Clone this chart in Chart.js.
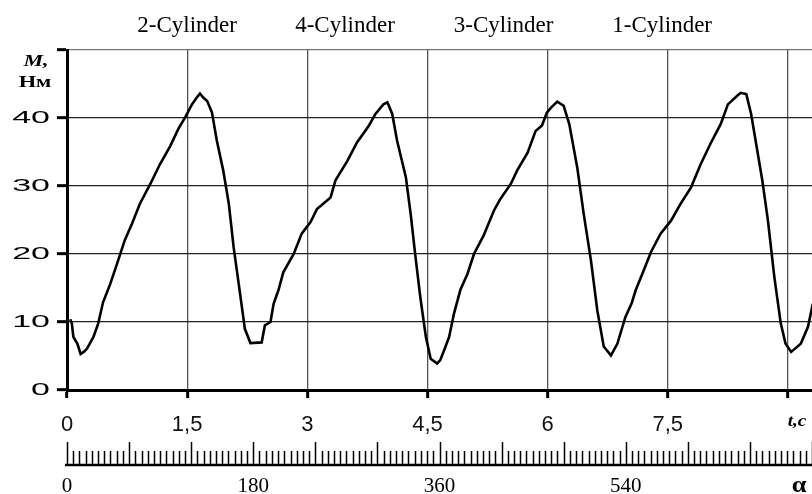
<!DOCTYPE html>
<html>
<head>
<meta charset="utf-8">
<script src="https://cdn.jsdelivr.net/npm/chart.js@4"></script>
<style>
  body { margin: 0; background: #fff; }
  #wrap { width: 812px; height: 494px; position: relative; }
</style>
</head>
<body>
<div id="wrap"><canvas id="torque-chart"></canvas></div>
<script>
// time t, s
const tValues = [
  0.04, 0.06, 0.08, 0.13, 0.17, 0.21, 0.25, 0.33, 0.39, 0.45, 0.54, 0.64, 0.72, 0.81, 0.91,
  1.04, 1.16, 1.29, 1.39, 1.48, 1.56, 1.62, 1.66, 1.70, 1.75, 1.81, 1.87, 1.95, 2.02, 2.08,
  2.16, 2.22, 2.29, 2.43, 2.47, 2.54, 2.58, 2.64, 2.70, 2.83, 2.93, 3.04, 3.12, 3.29, 3.35,
  3.50, 3.62, 3.77, 3.85, 3.95, 4.00, 4.06, 4.12, 4.23, 4.29, 4.35, 4.41, 4.48, 4.54, 4.62,
  4.66, 4.72, 4.77, 4.83, 4.91, 5.00, 5.08, 5.20, 5.33, 5.41, 5.54, 5.62, 5.75, 5.85, 5.93,
  5.99, 6.04, 6.12, 6.20, 6.27, 6.37, 6.45, 6.54, 6.62, 6.70, 6.79, 6.87, 6.97, 7.05, 7.10,
  7.20, 7.29, 7.41, 7.54, 7.66, 7.79, 7.91, 8.04, 8.16, 8.25, 8.37, 8.41, 8.48, 8.54, 8.60,
  8.68, 8.75, 8.83, 8.91, 8.97, 9.04, 9.16, 9.25, 9.31
];
// torque M, Nm
const mValues = [
  10.4, 9.8, 7.8, 6.8, 5.3, 5.6, 6.1, 7.8, 9.8, 12.9, 15.6, 19.1, 22.0, 24.4, 27.4,
  30.3, 33.2, 35.9, 38.4, 40.2, 42.0, 43.0, 43.6, 43.0, 42.5, 40.8, 36.7, 32.3, 27.4, 21.0,
  14.2, 9.0, 6.9, 7.0, 9.5, 10.0, 12.7, 14.7, 17.3, 20.0, 23.0, 24.7, 26.6, 28.3, 30.8,
  33.7, 36.4, 38.9, 40.6, 42.0, 42.3, 40.6, 36.7, 31.3, 25.9, 19.6, 13.7, 7.8, 4.6, 3.9,
  4.4, 6.2, 7.8, 11.2, 14.7, 17.1, 20.0, 22.7, 26.4, 28.1, 30.3, 32.3, 34.9, 38.1, 38.9,
  40.8, 41.5, 42.4, 41.8, 39.1, 32.7, 25.9, 19.1, 11.7, 6.4, 5.1, 6.8, 10.7, 12.8, 14.7,
  17.6, 20.3, 23.0, 24.9, 27.4, 29.8, 33.2, 36.4, 39.1, 42.0, 43.3, 43.7, 43.5, 40.6, 36.4,
  30.8, 24.9, 16.6, 9.8, 6.8, 5.6, 6.8, 9.3, 12.7
];
const yTickLabels = [0, 10, 20, 30, 40];
const angleTickLabels = [0, 180, 360, 540];
const cylinderNames = ['2-Cylinder', '4-Cylinder', '3-Cylinder', '1-Cylinder'];
const cylinderT = [1.5, 3.47, 5.45, 7.43];

// draws text stretched horizontally, like the scanned original
function stretchText(ctx, text, x, y, sx, align) {
    ctx.save();
    ctx.translate(x, y);
    ctx.scale(sx, 1);
    ctx.textAlign = align || 'center';
    ctx.fillText(text, 0, 0);
    ctx.restore();
}

const extras = {
    id: 'extras',
    afterDraw(chart) {
        const ctx = chart.ctx;
        const x = chart.scales.x, y = chart.scales.y, a = chart.scales.x2;
        ctx.save();
        ctx.fillStyle = '#000';
        ctx.textBaseline = 'middle';

        // y tick labels
        ctx.font = '17px "Liberation Sans"';
        yTickLabels.forEach(v => stretchText(ctx, String(v), 50, y.getPixelForValue(v), 2.0, 'right'));

        // axis names
        ctx.font = 'italic bold 17px "Liberation Serif"';
        stretchText(ctx, 'M,', 36, 62, 1.3);
        ctx.font = 'bold 16px "Liberation Serif"';
        stretchText(ctx, 'Нм', 35, 83, 1.4);
        ctx.font = 'italic bold 16px "Liberation Serif"';
        stretchText(ctx, 't,c', x.getPixelForValue(9) + 9, 422, 1.2);
        ctx.font = 'bold 24px "Liberation Serif"';
        stretchText(ctx, 'α', 799, 486, 1.1);

        // cylinder captions
        ctx.font = '23px "Liberation Serif"';
        cylinderNames.forEach((name, i) => stretchText(ctx, name, x.getPixelForValue(cylinderT[i]), 26, 1.0));

        // crank angle ruler
        const base = a.top + 25;
        ctx.strokeStyle = '#000';
        ctx.lineWidth = 1.5;
        ctx.beginPath();
        for (let d = 0; d <= 720; d += 6) {
            const px = Math.round(a.getPixelForValue(d)) + 0.5;
            ctx.moveTo(px, base);
            ctx.lineTo(px, d % 60 === 0 ? base - 23 : base - 14);
        }
        ctx.stroke();
        ctx.lineWidth = 2.5;
        ctx.beginPath();
        ctx.moveTo(a.left - 2, base);
        ctx.lineTo(a.right, base);
        ctx.stroke();
        ctx.restore();
    }
};

Chart.defaults.font.family = '"Liberation Sans", Arial, sans-serif';

new Chart(document.getElementById('torque-chart'), {
    type: 'line',
    data: {
        datasets: [{
            data: tValues.map((t, i) => ({ x: t, y: mValues[i] })),
            borderColor: '#000',
            borderWidth: 2.6,
            pointRadius: 0,
            tension: 0,
            fill: false
        }]
    },
    options: {
        responsive: true,
        maintainAspectRatio: false,
        animation: false,
        layout: { padding: { top: 50, left: 0, right: 0, bottom: 0 } },
        plugins: { legend: { display: false }, tooltip: { enabled: false } },
        scales: {
            x: {
                type: 'linear',
                min: 0,
                max: 9.3,
                weight: 0,
                afterFit: s => { s.height = 50; },
                grid: { color: '#555', lineWidth: 1.3, tickLength: 8, tickWidth: 3, tickColor: '#000' },
                border: { color: '#000', width: 3 },
                ticks: {
                    stepSize: 1.5,
                    includeBounds: false,
                    autoSkip: false,
                    maxRotation: 0,
                    padding: 14,
                    color: '#111',
                    font: { size: 22 },
                    callback: v => v === 9 ? '' : String(v).replace('.', ',')
                }
            },
            x2: {
                type: 'linear',
                position: 'bottom',
                min: 0,
                max: 720,
                weight: 1,
                afterFit: s => { s.height = 54; },
                grid: { display: true, drawOnChartArea: false, drawTicks: true, tickLength: 34, tickColor: 'rgba(0,0,0,0)' },
                border: { display: false },
                ticks: {
                    stepSize: 180,
                    includeBounds: false,
                    autoSkip: false,
                    maxRotation: 0,
                    padding: 0,
                    color: '#000',
                    font: { family: '"Liberation Serif"', size: 21 },
                    callback: v => angleTickLabels.includes(v) ? String(v) : ''
                }
            },
            y: {
                min: 0,
                max: 50,
                afterFit: s => { s.width = 67; },
                grid: {
                    color: c => c.tick && c.tick.value === 50 ? '#777' : '#222',
                    lineWidth: 1.3,
                    tickLength: 10,
                    tickWidth: 3,
                    tickColor: '#000'
                },
                border: { color: '#000', width: 3 },
                ticks: { display: false, stepSize: 10 }
            }
        }
    },
    plugins: [extras]
});
</script>
</body>
</html>
